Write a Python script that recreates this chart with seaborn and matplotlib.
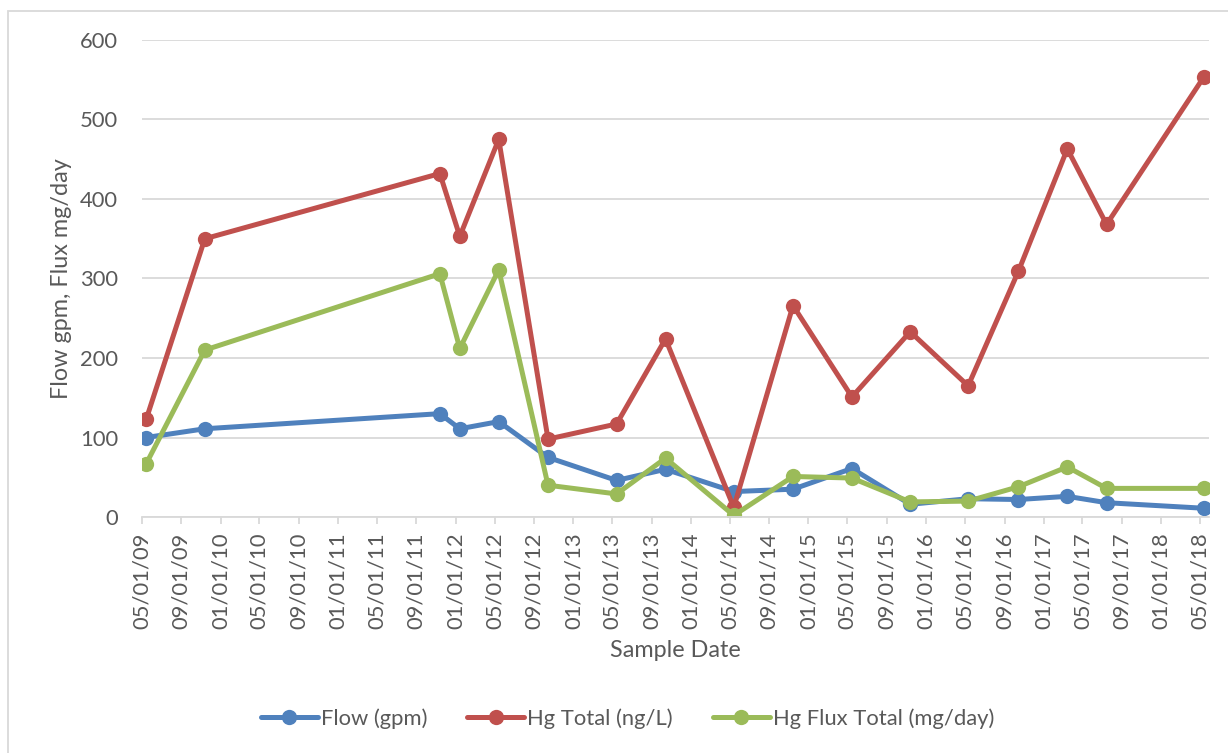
import matplotlib
matplotlib.use("Agg")
import matplotlib.pyplot as plt
import matplotlib.dates as mdates
from matplotlib.patches import Rectangle
import pandas as pd
import seaborn as sns

# Sample dates and measured series
sample_dates = ["2009-05-15", "2009-11-13", "2011-11-13", "2012-01-14", "2012-05-14",
                "2012-10-14", "2013-05-15", "2013-10-14", "2014-05-14", "2014-11-14",
                "2015-05-16", "2015-11-13", "2016-05-11", "2016-10-14", "2017-03-15",
                "2017-07-15", "2018-05-14"]
flow_gpm = [100, 111, 130, 111, 120, 75, 46, 60, 32, 35, 61, 16, 23, 22, 26, 18, 11]
hg_total = [123, 350, 432, 353, 475, 98, 117, 224, 12, 266, 151, 233, 165, 309, 463, 368, 554]
hg_flux = [67, 210, 306, 212, 311, 40, 29, 74, 2, 51, 49, 19, 20, 38, 63, 36, 36]

series_names = ["Flow (gpm)", "Hg Total (ng/L)", "Hg Flux Total (mg/day)"]
series_colors = ["#4F81BD", "#C0504D", "#9BBB59"]

dates = pd.to_datetime(sample_dates)
df = pd.DataFrame({
    "date": list(dates) * 3,
    "value": flow_gpm + hg_total + hg_flux,
    "series": [s for s in series_names for _ in dates],
})

sns.set_theme(style="white")
plt.rcParams["font.family"] = ["Lato", "DejaVu Sans"]
text_color = "#595959"
grid_color = "#D9D9D9"

fig = plt.figure(figsize=(12.28, 7.53), dpi=100)
ax = fig.add_axes([0.1154, 0.3134, 0.8691, 0.6335])

# chart-area border
fig.patches.append(Rectangle((8 / 1228, -0.05), 1.2, 1 - 11 / 753 + 0.05,
                             transform=fig.transFigure, fill=False,
                             edgecolor=grid_color, linewidth=1.3, zorder=0))

sns.lineplot(data=df, x="date", y="value", hue="series", hue_order=series_names,
             palette=series_colors, marker="o", markersize=11, markeredgewidth=0,
             linewidth=3.6, ax=ax, legend=True, sort=False)

ax.set_ylim(0, 600)
ax.set_yticks(range(0, 601, 100))
ax.set_xlim(pd.Timestamp("2009-05-01"), pd.Timestamp("2018-05-29"))
ticks = pd.date_range("2009-05-01", "2018-05-01", freq="4MS")
ax.set_xticks(ticks)
ax.xaxis.set_major_formatter(mdates.DateFormatter("%m/%d/%y"))
plt.setp(ax.get_xticklabels(), rotation=90)

ax.yaxis.grid(True, color=grid_color, linewidth=1.3)
ax.xaxis.grid(False)
for side in ["left", "right", "top"]:
    ax.spines[side].set_visible(False)
ax.spines["bottom"].set_color(grid_color)
ax.spines["bottom"].set_linewidth(1.3)
ax.tick_params(axis="x", direction="out", length=5, width=1.3, color=grid_color,
               pad=6, labelsize=15.8, labelcolor=text_color, bottom=True)
ax.tick_params(axis="y", length=0, pad=17, labelsize=15.8, labelcolor=text_color)

ax.set_xlabel("Sample Date", fontsize=16.8, color=text_color, labelpad=8)
ax.set_ylabel("Flow gpm, Flux mg/day", fontsize=16.8, color=text_color, labelpad=6)

handles, labels = ax.get_legend_handles_labels()
ax.legend_.remove()
fig.legend(handles, labels, loc="center", bbox_to_anchor=(0.511, 0.046), ncol=3,
           frameon=False, fontsize=15.8, labelcolor=text_color, handlelength=2.6,
           handletextpad=0.15, columnspacing=1.8)

fig.savefig("out.png", dpi=100, facecolor="white")
